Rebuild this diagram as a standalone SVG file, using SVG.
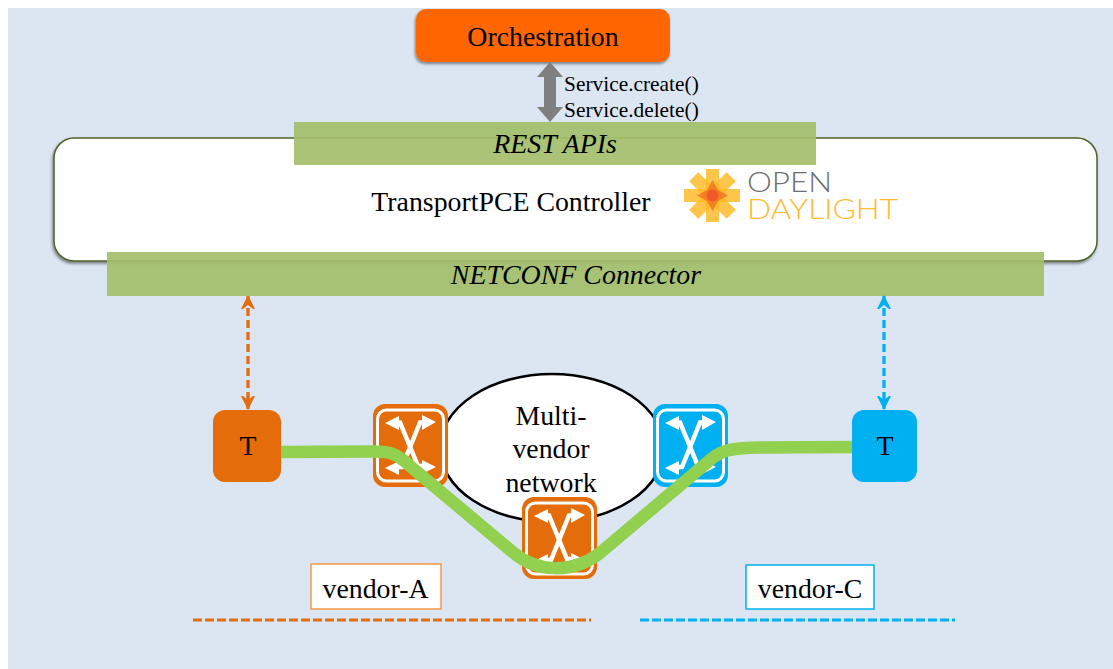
<svg xmlns="http://www.w3.org/2000/svg" xmlns:xlink="http://www.w3.org/1999/xlink" width="1113" height="669" viewBox="0 0 1113 669">
<style>
text{font-family:"Liberation Serif","Times New Roman",serif;fill:#000;text-anchor:middle}
.t27{font-size:27.8px}
.t28i{font-size:27.9px;font-style:italic}
.svc{font-size:21.4px;text-anchor:start}
.band{fill:#a4be6c;fill-opacity:.93}
.sx{fill:none;stroke:#fff;stroke-width:4.5;stroke-linejoin:miter}
.ah{fill:#fff}
.inner{fill:none;stroke:#fff;stroke-width:3}
.o{fill:#e46c0a}
.b{fill:#00b0f0}
.logo{font-family:Lato,"Open Sans",sans-serif;font-weight:300;font-size:28px;text-anchor:start}
.star{fill:#fdb81e;fill-opacity:.8}
</style>
<defs>
<filter id="sh" x="-5%" y="-10%" width="110%" height="125%"><feDropShadow dx="-1" dy="2" stdDeviation="1.5" flood-color="#000" flood-opacity=".45"/></filter>
<marker id="ao" viewBox="0 0 14 14" refX="13" refY="7" markerWidth="14" markerHeight="14" markerUnits="userSpaceOnUse" orient="auto-start-reverse"><path d="M0 0L14 7L0 14L0 12L4 7L0 2Z" fill="#e46c0a"/></marker>
<marker id="ab" viewBox="0 0 14 14" refX="13" refY="7" markerWidth="14" markerHeight="14" markerUnits="userSpaceOnUse" orient="auto-start-reverse"><path d="M0 0L14 7L0 14L0 12L4 7L0 2Z" fill="#00b0f0"/></marker>
<g id="xsw">
<rect class="inner" x="4.500" y="6" width="66" height="71" rx="9"/>
<path class="sx" d="M22 18.500L27 18.500L45 62L52 62"/>
<path class="sx" d="M54 18.500L47 18.500L29 63L22 63"/>
<polygon class="ah" points="12,19 26,12 26,26"/>
<polygon class="ah" points="63,18 49,11 49,26"/>
<polygon class="ah" points="12,64 26,57 26,71"/>
<polygon class="ah" points="63,63 49,56 49,70"/>
</g>
<g id="star">
<rect class="star" x="706" y="169" width="13" height="53"/>
<rect class="star" x="684" y="189" width="56" height="13"/>
<rect class="star" x="706" y="169" width="13" height="53" transform="rotate(45 712.500 195.500)"/>
<rect class="star" x="706" y="169" width="13" height="53" transform="rotate(-45 712.500 195.500)"/>
</g>
</defs>
<rect id="background" x="8" y="8" width="1105" height="661" fill="#dce6f2"/>

<g id="orchestration">
<rect x="416" y="9" width="254" height="53" rx="10" fill="#ff6600" filter="url(#sh)"/>
<text class="t27" x="543" y="46">Orchestration</text>
</g>

<g id="controller">
<rect x="54" y="138" width="1043" height="123" rx="20" fill="#fff" stroke="#4f6228" stroke-width="1.500" filter="url(#sh)"/>
<text class="t27" x="511" y="211">TransportPCE Controller</text>
</g>

<g id="opendaylight-logo">
<use xlink:href="#star" href="#star"/>
<polygon points="712.500,180 718,190 728,195.500 718,201 712.500,211 707,201 697,195.500 707,190" fill="#f26b21" fill-opacity=".75"/>
<circle cx="712.500" cy="195.500" r="6" fill="#f15a29"/>
<text class="logo" x="747" y="192" textLength="85" lengthAdjust="spacingAndGlyphs" style="fill:#6d6e71">OPEN</text>
<text class="logo" x="747" y="219" textLength="151" lengthAdjust="spacingAndGlyphs" style="fill:#fdbb30">DAYLIGHT</text>
</g>

<g id="rest-apis">
<rect class="band" x="294" y="122" width="522" height="43"/>
<text class="t28i" x="555" y="153">REST APIs</text>
</g>

<g id="netconf-connector">
<rect class="band" x="107" y="252" width="937" height="44"/>
<text class="t28i" x="576" y="284">NETCONF Connector</text>
</g>

<g id="multi-vendor-network">
<ellipse cx="552" cy="448" rx="112" ry="74" fill="#fff" stroke="#000" stroke-width="2.500"/>
<text class="t27" x="551" y="425">Multi-</text>
<text class="t27" x="551" y="458">vendor</text>
<text class="t27" x="551" y="492">network</text>
</g>

<g id="t-a">
<rect class="o" x="213" y="410" width="68" height="72" rx="12"/>
<text class="t27" x="248" y="455">T</text>
</g>
<g id="t-c">
<rect class="b" x="852" y="410" width="65" height="72" rx="12"/>
<text class="t27" x="885" y="455">T</text>
</g>

<g id="switch-a1">
<rect class="o" x="373" y="404" width="75" height="83" rx="12"/>
<use xlink:href="#xsw" href="#xsw" x="373" y="404"/>
</g>
<g id="switch-a2">
<rect class="o" x="522" y="497" width="75" height="82" rx="12"/>
<use xlink:href="#xsw" href="#xsw" x="522" y="497"/>
</g>
<g id="switch-c">
<rect class="b" x="653" y="404" width="75" height="83" rx="12"/>
<use xlink:href="#xsw" href="#xsw" x="653" y="404"/>
</g>

<g id="vendor-a">
<rect x="311" y="564" width="130" height="45" fill="#fff" stroke="#f79646" stroke-width="1.500"/>
<text class="t27" x="375.500" y="598">vendor-A</text>
</g>
<g id="vendor-c">
<rect x="746" y="565" width="128" height="44" fill="#fff" stroke="#00b0f0" stroke-width="1.500"/>
<text class="t27" x="810" y="598">vendor-C</text>
</g>

<g id="service-labels">
<text class="svc" x="564" y="91">Service.create()</text>
<text class="svc" x="564" y="117">Service.delete()</text>
</g>

<g id="connectors">
<polygon points="550,62 563,77 556,77 556,107 563,107 550,122 537,107 544,107 544,77 537,77" fill="#7f7f7f"/>
<line x1="248" y1="296" x2="248" y2="409" stroke="#e46c0a" stroke-width="3.300" stroke-dasharray="8 4" marker-start="url(#ao)" marker-end="url(#ao)"/>
<line x1="884" y1="296" x2="884" y2="409" stroke="#00b0f0" stroke-width="3.300" stroke-dasharray="8 4" marker-start="url(#ab)" marker-end="url(#ab)"/>
<path d="M281 452L370 451.500C390 451 396 453 410 466L515 554C535 570 570 576 600 553L710 460C722 449 735 448 760 447.500L852 447" fill="none" stroke="#92d050" stroke-width="12.500"/>
<line x1="193" y1="620" x2="591" y2="620" stroke="#e46c0a" stroke-width="3" stroke-dasharray="9 3"/>
<line x1="640" y1="620" x2="955" y2="620" stroke="#00b0f0" stroke-width="3" stroke-dasharray="9 3"/>
</g>
</svg>
